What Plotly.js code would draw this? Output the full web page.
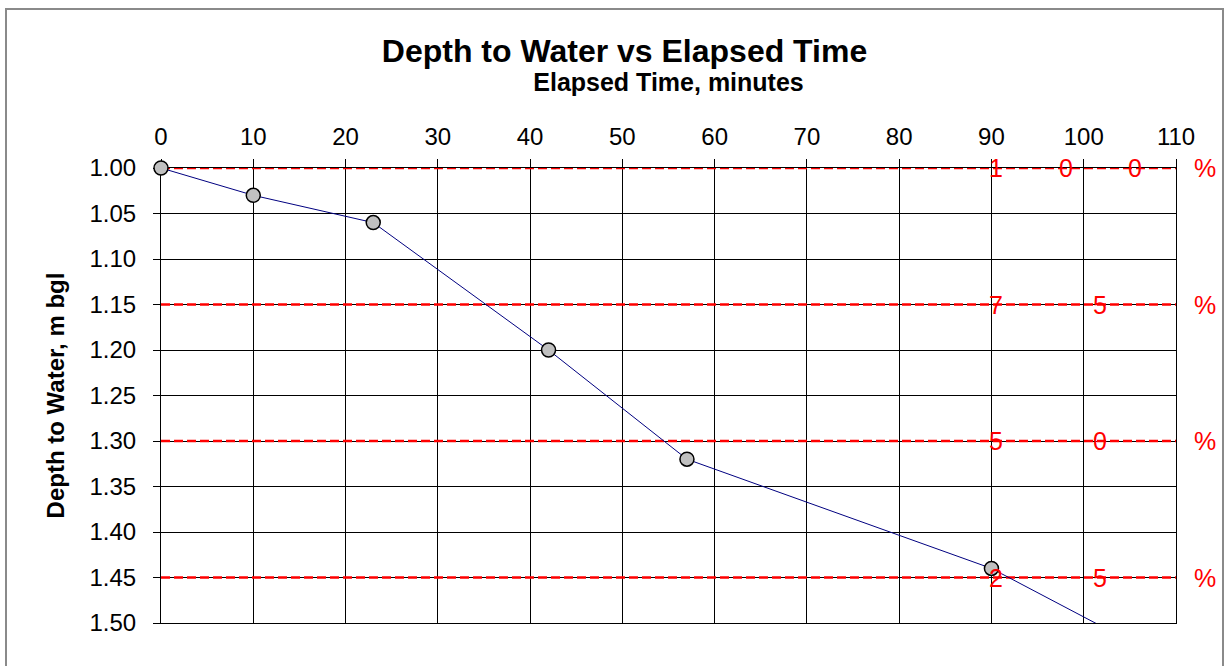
<!DOCTYPE html>
<html>
<head>
<meta charset="utf-8">
<script src="https://cdn.plot.ly/plotly-3.0.1.min.js"></script>
<style>
  body { margin: 0; background: #ffffff; }
  #wrap { position: relative; width: 1225px; height: 666px; overflow: hidden; }
  #chart { width: 1225px; height: 666px; }
  #frame { position: absolute; left: 5px; top: 8px; width: 1215px; height: 700px;
           border: 2px solid #8a8a8a; pointer-events: none; }
</style>
</head>
<body>
<div id="wrap"><div id="chart"></div><div id="frame"></div></div>
<script>
// ---- data ----
const elapsedMinutes = [0, 10, 23, 42, 57, 90, 120];
const depthToWater   = [1.00, 1.03, 1.06, 1.20, 1.32, 1.44, 1.60];
const recoveryLevels = [1.00, 1.15, 1.30, 1.45];
const recoveryLabels = ['100%', '75%', '50%', '25%'];
const xTickVals = [0, 10, 20, 30, 40, 50, 60, 70, 80, 90, 100, 110];
const yTickVals = [1.00, 1.05, 1.10, 1.15, 1.20, 1.25, 1.30, 1.35, 1.40, 1.45, 1.50];
const yTickText = ['1.00', '1.05', '1.10', '1.15', '1.20', '1.25', '1.30', '1.35', '1.40', '1.45', '1.50'];

// ---- styling / layout constants ----
const X_RANGE = [0, 110];
const Y_RANGE = [1.50, 1.00];            // reversed: depth increases downward
const LABEL_START = 90.5, LABEL_END = 113.1; // spread of the percentage characters (x units)
const FONT = 'Arial, "Liberation Sans", sans-serif';

const xToPaper = v => (v - X_RANGE[0]) / (X_RANGE[1] - X_RANGE[0]);

const traces = [];
// red dashed recovery level lines (drawn first, under the data series)
recoveryLevels.forEach(lv => {
  traces.push({
    type: 'scatter', mode: 'lines',
    x: [X_RANGE[0], X_RANGE[1]], y: [lv, lv],
    line: { color: '#ff0000', width: 2.5, dash: '9px,4px' },
    hoverinfo: 'skip', showlegend: false
  });
});
traces.push({
  type: 'scatter',
  mode: 'lines+markers',
  x: elapsedMinutes,
  y: depthToWater,
  line: { color: '#000080', width: 1 },
  marker: { size: 14, color: '#c0c0c0', line: { color: '#000000', width: 1.5 } },
  cliponaxis: false,
  hoverinfo: 'x+y',
  showlegend: false
});

const annotations = [];
recoveryLevels.forEach((lv, i) => {
  const chars = recoveryLabels[i].split('');
  const n = chars.length;
  chars.forEach((ch, j) => {
    const xv = LABEL_START + (LABEL_END - LABEL_START) * j / (n - 1);
    annotations.push({
      xref: 'paper', x: xToPaper(xv), yref: 'y', y: lv,
      text: ch, showarrow: false, xanchor: 'center', yanchor: 'middle',
      font: { family: FONT, size: 25, color: '#ff0000' }
    });
  });
});

const layout = {
  width: 1225, height: 666,
  margin: { l: 161, r: 49, t: 167.5, b: 42.5 },
  paper_bgcolor: '#ffffff', plot_bgcolor: '#ffffff',
  font: { family: FONT, color: '#000000' },
  title: {
    text: 'Depth to Water vs Elapsed Time',
    font: { family: FONT, size: 32, weight: 'bold', color: '#000000' },
    xref: 'container', x: 624.5 / 1225, xanchor: 'center',
    yref: 'container', y: 1 - 51 / 666, yanchor: 'middle'
  },
  xaxis: {
    range: X_RANGE, side: 'top', tickmode: 'array', tickvals: xTickVals,
    ticks: 'outside', ticklen: 8, tickcolor: '#000000', tickwidth: 1,
    ticklabelstandoff: 4,
    tickfont: { family: FONT, size: 24, color: '#000000' },
    showgrid: true, gridcolor: '#000000', gridwidth: 1,
    showline: true, linecolor: '#000000', linewidth: 1, mirror: true,
    zeroline: false, layer: 'below traces', automargin: false,
    title: { text: 'Elapsed Time, minutes', standoff: 24,
             font: { family: FONT, size: 25, weight: 'bold', color: '#000000' } }
  },
  yaxis: {
    range: Y_RANGE, tickmode: 'array', tickvals: yTickVals, ticktext: yTickText,
    ticks: 'outside', ticklen: 7, tickcolor: '#000000', tickwidth: 1,
    ticklabelstandoff: 12,
    tickfont: { family: FONT, size: 24, color: '#000000' },
    showgrid: true, gridcolor: '#000000', gridwidth: 1,
    showline: true, linecolor: '#000000', linewidth: 1, mirror: true,
    zeroline: false, layer: 'below traces', automargin: false,
    title: { text: 'Depth to Water, m bgl', standoff: 18,
             font: { family: FONT, size: 24, weight: 'bold', color: '#000000' } }
  },
  annotations: annotations,
  showlegend: false
};

Plotly.newPlot('chart', traces, layout, { displayModeBar: false });
</script>
</body>
</html>
